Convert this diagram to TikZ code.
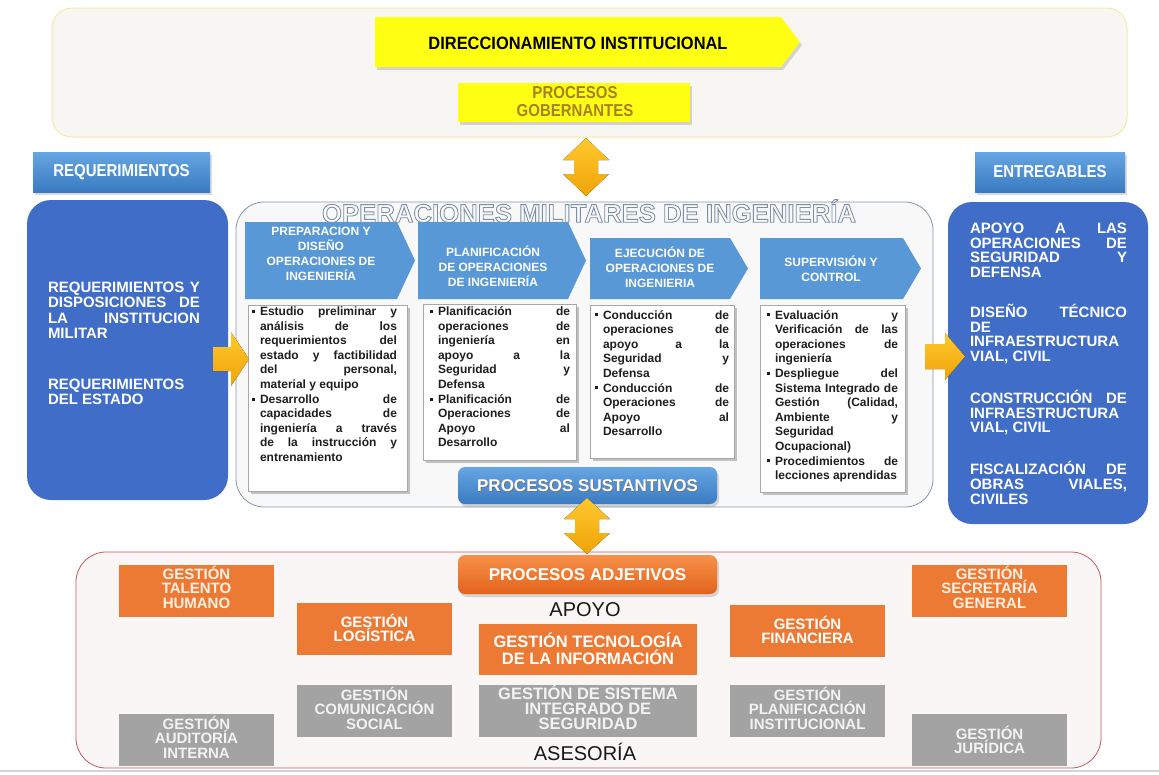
\documentclass[tikz,border=0pt]{standalone}
\usepackage{fontspec}
\setmainfont{Liberation Sans}
\usepackage{graphicx}
\usetikzlibrary{shadows}

\definecolor{pageline}{HTML}{D4D4D4}
\definecolor{topfill}{HTML}{F8F6F2}
\definecolor{topedge}{HTML}{F2EBA8}
\definecolor{yel}{HTML}{FFFF14}
\definecolor{goldtxt}{HTML}{A88020}
\definecolor{goldhi}{HTML}{FFC82E}
\definecolor{goldlo}{HTML}{EFA406}
\definecolor{panel}{HTML}{3F6DC7}
\definecolor{hdrtop}{HTML}{66A6E2}
\definecolor{hdrbot}{HTML}{3A7AC2}
\definecolor{procblue}{HTML}{5898D6}
\definecolor{midfill}{HTML}{F7F8F7}
\definecolor{midedge}{HTML}{8497AA}
\definecolor{boxedge}{HTML}{A8A8A8}
\definecolor{bodytxt}{HTML}{1E1E1E}
\definecolor{orgtop}{HTML}{F7914A}
\definecolor{orgbot}{HTML}{E3631B}
\definecolor{orgbox}{HTML}{EC7A34}
\definecolor{orgtxt}{HTML}{FFF0E4}
\definecolor{graybox}{HTML}{A3A3A3}
\definecolor{graytxt}{HTML}{F2F2F2}
\definecolor{botfill}{HTML}{FAF6F5}
\definecolor{botedge}{HTML}{C55A5A}
\definecolor{titlefill}{HTML}{F8F8F8}

\newcommand\fs[2]{\fontsize{#1}{#2}\selectfont}
\newlength\bind
\newcommand\bulsq{\raisebox{2.6pt}{\rule{3pt}{3pt}}}
% lines of the justified blocks: J = justified, L = ragged (last line)
\newcommand\lineJ[1]{\hbox to \hsize{#1}}
\newcommand\lineL[1]{\hbox to \hsize{#1\hfil}}
\newcommand\itemJ[1]{\hbox to \hsize{\hbox to \bind{\bulsq\hss}#1}}
\newcommand\itemL[1]{\hbox to \hsize{\hbox to \bind{\bulsq\hss}#1\hfil}}
\newcommand\contJ[1]{\hbox to \hsize{\hskip\bind\relax #1}}
\newcommand\contL[1]{\hbox to \hsize{\hskip\bind\relax #1\hfil}}
% outlined heading: glyphs filled light and stroked in slate blue
\newcommand\titletxt{\special{pdf:literal direct 2 Tr 0.7 w 0.49 0.56 0.64 RG}%
  \resizebox{534pt}{!}{\fs{21}{21}\bfseries OPERACIONES MILITARES DE INGENIERÍA}%
  \special{pdf:literal direct 0 Tr}}
\newcommand\tallcaps[3][1]{\scalebox{#1}[1.15]{\fs{#2}{#2}\bfseries #3}}

\begin{document}
\begin{tikzpicture}[x=1pt,y=-1pt,
  every node/.style={inner sep=0pt,outer sep=0pt},
  corner/.style={anchor=north west},
  softshadow/.style={drop shadow={shadow xshift=2pt,shadow yshift=-3pt,opacity=0.3}},
  topbox/.style={corner,draw=topedge,fill=topfill,line width=1pt,rounded corners=20pt},
  yelbox/.style={corner,fill=yel,softshadow},
  hdrbox/.style={corner,top color=hdrtop,bottom color=hdrbot,softshadow},
  panelbox/.style={corner,fill=panel,rounded corners=24pt},
  midbox/.style={corner,fill=midfill,draw=midedge,line width=0.8pt,rounded corners=28pt},
  botbox/.style={corner,fill=botfill,draw=botedge,line width=0.8pt,rounded corners=30pt},
  procarrow/.style={fill=procblue},
  txtbox/.style={corner,fill=white,draw=boxedge,line width=0.6pt,
    drop shadow={shadow xshift=2.5pt,shadow yshift=-2.5pt,opacity=0.45}},
  bluepill/.style={corner,rounded corners=7pt,top color=hdrtop,bottom color=hdrbot,softshadow},
  orgpill/.style={corner,rounded corners=7pt,top color=orgtop,bottom color=orgbot,softshadow},
  obox/.style={corner,fill=orgbox},
  gbox/.style={corner,fill=graybox},
  otxt/.style={text=orgtxt,align=center,font=\fs{15}{14.5}\bfseries},
  gtxt/.style={text=graytxt,align=center,font=\fs{15}{14.5}\bfseries},
  arrtxt/.style={text=white,align=center,font=\fs{12}{15}\bfseries},
  goldarrow/.style={top color=goldhi,bottom color=goldlo},
  bigword/.style={text=black!90,font=\fs{20}{20}}
]
\useasboundingbox (0,0) rectangle (1159,774);

% page edge line
\draw[pageline,line width=2pt] (0,771) -- (1159,771);

% ---------- governing processes ----------
\node[topbox,minimum width=1075,minimum height=129] (gov) at (52,8) {};
\fill[yel,softshadow] (375,17) -- (781,17) -- (800,42) -- (781,67) -- (375,67) -- cycle;
\node (dir) at (578,43) {\tallcaps[1.06]{15.5}{DIRECCIONAMIENTO INSTITUCIONAL}};
\node[yelbox,minimum width=232,minimum height=39] (gobbox) at (458,83) {};
\node[text=goldtxt,align=center,font=\fs{15}{18}] (gob) at (575,102)
  {\tallcaps{15}{PROCESOS}\\\tallcaps{15}{GOBERNANTES}};

% ---------- side headers ----------
\node[hdrbox,minimum width=177,minimum height=40] (req) at (33,152) {};
\node[text=white] (reqt) at (req.center) {\tallcaps{15}{REQUERIMIENTOS}};
\node[hdrbox,minimum width=150,minimum height=40] (ent) at (975,152) {};
\node[text=white] (entt) at (ent.center) {\tallcaps{15}{ENTREGABLES}};

% ---------- side panels ----------
\node[panelbox,minimum width=201,minimum height=300] (left) at (27,200) {};
\node[anchor=base west,text=white] (leftt) at (48,292.5) {\vtop{\hsize=152pt\fs{15}{15.3}\bfseries
  \lineJ{REQUERIMIENTOS Y}
  \lineJ{DISPOSICIONES DE}
  \lineJ{LA INSTITUCION}
  \lineL{MILITAR}
  \vskip 35.7pt
  \lineL{REQUERIMIENTOS}
  \lineL{DEL ESTADO}}};

\node[panelbox,minimum width=200,minimum height=322] (right) at (948,202) {};
\node[anchor=base west,text=white] (rightt) at (970,233.4) {\vtop{\hsize=157pt\fs{15}{14.7}\bfseries
  \lineJ{APOYO A LAS}
  \lineJ{OPERACIONES DE}
  \lineJ{SEGURIDAD Y}
  \lineL{DEFENSA}
  \vskip 25.3pt
  \lineJ{DISEÑO TÉCNICO}
  \lineL{DE}
  \lineL{INFRAESTRUCTURA}
  \lineL{VIAL, CIVIL}
  \vskip 25.3pt
  \lineJ{CONSTRUCCIÓN DE}
  \lineL{INFRAESTRUCTURA}
  \lineL{VIAL, CIVIL}
  \vskip 25.3pt
  \lineJ{FISCALIZACIÓN DE}
  \lineJ{OBRAS VIALES,}
  \lineL{CIVILES}}};

% ---------- substantive processes ----------
\node[midbox,minimum width=697,minimum height=305] (mid) at (236,202) {};
\node[text=titlefill] (title) at (589,211) {\titletxt};

% stage arrows
\fill[procarrow] (245,222) -- (397,222) -- (415,260.5) -- (397,299) -- (245,299) -- cycle;
\fill[procarrow] (418,222) -- (568,222) -- (586,260.5) -- (568,299) -- (418,299) -- cycle;
\fill[procarrow] (590,238) -- (730,238) -- (748,268.5) -- (730,299) -- (590,299) -- cycle;
\fill[procarrow] (760,238) -- (903,238) -- (921,268.5) -- (903,299) -- (760,299) -- cycle;
\node[arrtxt] (a1) at (321,254) {PREPARACION Y\\DISEÑO\\OPERACIONES DE\\INGENIERÍA};
\node[arrtxt] (a2) at (493,266) {PLANIFICACIÓN\\DE OPERACIONES\\DE INGENIERÍA};
\node[arrtxt] (a3) at (660,267) {EJECUCIÓN DE\\OPERACIONES DE\\INGENIERIA};
\node[arrtxt] (a4) at (831,269) {SUPERVISIÓN Y\\CONTROL};

% stage detail boxes
\node[txtbox,minimum width=159,minimum height=186] (b1) at (248,305) {};
\node[txtbox,minimum width=153,minimum height=156] (b2) at (423,304) {};
\node[txtbox,minimum width=144,minimum height=153] (b3) at (590,305) {};
\node[txtbox,minimum width=145,minimum height=187] (b4) at (760,305) {};

\node[anchor=base west,text=bodytxt] (t1) at (252,315.5) {\vtop{\hsize=145pt\bind=8pt\fs{12}{14.6}\bfseries
  \itemJ{Estudio preliminar y}
  \contJ{análisis de los}
  \contJ{requerimientos del}
  \contJ{estado y factibilidad}
  \contJ{del personal,}
  \contL{material y equipo}
  \itemJ{Desarrollo de}
  \contJ{capacidades de}
  \contJ{ingeniería a través}
  \contJ{de la instrucción y}
  \contL{entrenamiento}}};

\node[anchor=base west,text=bodytxt] (t2) at (430,315.5) {\vtop{\hsize=140pt\bind=8pt\fs{12}{14.6}\bfseries
  \itemJ{Planificación de}
  \contJ{operaciones de}
  \contJ{ingeniería en}
  \contJ{apoyo a la}
  \contJ{Seguridad y}
  \contL{Defensa}
  \itemJ{Planificación de}
  \contJ{Operaciones de}
  \contJ{Apoyo al}
  \contL{Desarrollo}}};

\node[anchor=base west,text=bodytxt] (t3) at (595,319) {\vtop{\hsize=134pt\bind=8pt\fs{12}{14.6}\bfseries
  \itemJ{Conducción de}
  \contJ{operaciones de}
  \contJ{apoyo a la}
  \contJ{Seguridad y}
  \contL{Defensa}
  \itemJ{Conducción de}
  \contJ{Operaciones de}
  \contJ{Apoyo al}
  \contL{Desarrollo}}};

\node[anchor=base west,text=bodytxt] (t4) at (767,319) {\vtop{\hsize=131pt\bind=8pt\fs{12}{14.6}\bfseries
  \itemJ{Evaluación y}
  \contJ{Verificación de las}
  \contJ{operaciones de}
  \contL{ingeniería}
  \itemJ{Despliegue del}
  \contJ{Sistema Integrado de}
  \contJ{Gestión (Calidad,}
  \contJ{Ambiente y}
  \contL{Seguridad}
  \contL{Ocupacional)}
  \itemJ{Procedimientos de}
  \contL{lecciones aprendidas}}};

% input and output arrows
\fill[goldarrow] (213,347) -- (231,347) -- (231,332) -- (249,359) -- (231,386) -- (231,371) -- (213,371) -- cycle;
\fill[goldarrow] (925,344) -- (945,344) -- (945,333) -- (965,356.5) -- (945,380) -- (945,369) -- (925,369) -- cycle;

% ---------- adjective processes ----------
\node[botbox,minimum width=1025,minimum height=216] (bot) at (76,552) {};

\node[bluepill,minimum width=259,minimum height=37] (sust) at (458,467) {};
\node[text=black!55,font=\fs{17}{17}\bfseries] at ([shift={(0.8,0.8)}]sust.center) {PROCESOS SUSTANTIVOS};
\node[text=white,font=\fs{17}{17}\bfseries] (sustt) at (sust.center) {PROCESOS SUSTANTIVOS};

\node[orgpill,minimum width=259,minimum height=39] (adj) at (458,555) {};
\node[text=white,font=\fs{17}{17}\bfseries] (adjt) at (adj.center) {PROCESOS ADJETIVOS};

\node[bigword] (apoyo) at (585,610) {APOYO};
\node[bigword] (asesoria) at (585,752) {ASESORÍA};

\node[obox,minimum width=155,minimum height=52] (talento) at (119,565) {};
\node[obox,minimum width=155,minimum height=52] (logist) at (297,603) {};
\node[obox,minimum width=218,minimum height=51] (tecno) at (479,624) {};
\node[obox,minimum width=155,minimum height=52] (finan) at (730,605) {};
\node[obox,minimum width=155,minimum height=52] (secre) at (912,565) {};
\node[gbox,minimum width=155,minimum height=52] (comun) at (297,685) {};
\node[gbox,minimum width=218,minimum height=52] (sistema) at (479,685) {};
\node[gbox,minimum width=155,minimum height=52] (planif) at (730,685) {};
\node[gbox,minimum width=155,minimum height=52] (audit) at (119,714) {};
\node[gbox,minimum width=155,minimum height=52] (juri) at (912,714) {};

\node[otxt] (talentot) at (196.5,587) {GESTIÓN\\TALENTO\\HUMANO};
\node[otxt,text=white] (logistt) at (374.5,628) {GESTIÓN\\LOGÍSTICA};
\node[otxt,text=white,font=\fs{16.5}{16.5}\bfseries] (tecnot) at (588,649) {GESTIÓN TECNOLOGÍA\\DE LA INFORMACIÓN};
\node[otxt,text=white] (finant) at (807.5,630) {GESTIÓN\\FINANCIERA};
\node[otxt] (secret) at (989.5,587) {GESTIÓN\\SECRETARÍA\\GENERAL};
\node[gtxt] (comunt) at (374.5,708) {GESTIÓN\\COMUNICACIÓN\\SOCIAL};
\node[gtxt,font=\fs{16.5}{15}\bfseries] (sistemat) at (588,707) {GESTIÓN DE SISTEMA\\INTEGRADO DE\\SEGURIDAD};
\node[gtxt] (planift) at (807.5,708) {GESTIÓN\\PLANIFICACIÓN\\INSTITUCIONAL};
\node[gtxt] (auditt) at (196.5,737) {GESTIÓN\\AUDITORÍA\\INTERNA};
\node[gtxt] (jurit) at (989.5,740) {GESTIÓN\\JURÍDICA};

% two-way links between process levels
\begin{scope}[shift={(586,167)}]
  \fill[goldarrow] (0,-29) -- (23,-7) -- (12,-7) -- (12,7) -- (23,7) -- (0,29)
    -- (-23,7) -- (-12,7) -- (-12,-7) -- (-23,-7) -- cycle;
\end{scope}
\begin{scope}[shift={(587,526)}]
  \fill[goldarrow] (0,-28) -- (23,-7) -- (12,-7) -- (12,7) -- (23,7) -- (0,28)
    -- (-23,7) -- (-12,7) -- (-12,-7) -- (-23,-7) -- cycle;
\end{scope}
\end{tikzpicture}
\end{document}
